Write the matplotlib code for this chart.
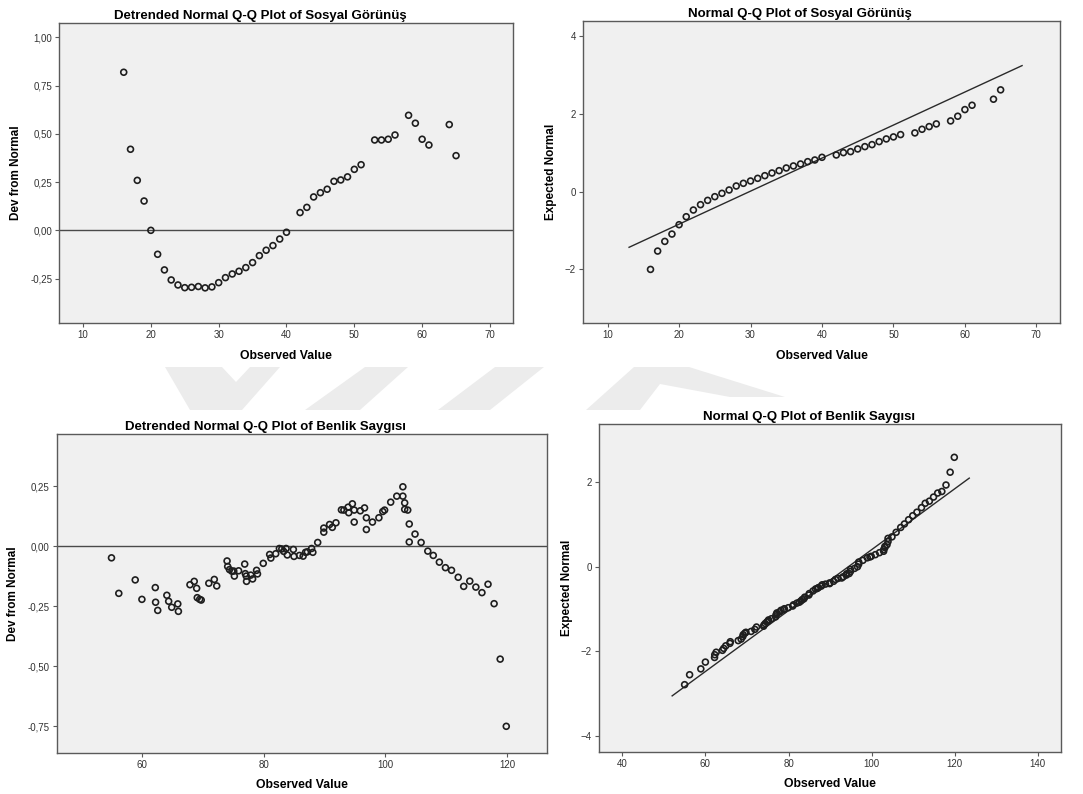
"""SPSS-style normal / detrended normal Q-Q plots for Sosyal Görünüş and Benlik Saygısı."""

import matplotlib

matplotlib.use("Agg")
import matplotlib.pyplot as plt
from matplotlib.patches import Polygon
from matplotlib.ticker import FuncFormatter

plt.rcParams["font.family"] = ["Liberation Sans", "DejaVu Sans"]

# --- Sosyal Görünüş -------------------------------------------------------
sos_obs = [16, 17, 18, 19, 20, 21, 22, 23, 24, 25, 26, 27, 28, 29, 30, 31, 32,
           33, 34, 35, 36, 37, 38, 39, 40, 42, 43, 44, 45, 46, 47, 48, 49, 50,
           51, 53, 54, 55, 56, 58, 59, 60, 61, 64, 65]
sos_dev = [0.819, 0.420, 0.259, 0.152, 0.000, -0.124, -0.205, -0.257, -0.283,
           -0.297, -0.295, -0.291, -0.298, -0.293, -0.271, -0.245, -0.226,
           -0.212, -0.193, -0.167, -0.131, -0.103, -0.079, -0.045, -0.010,
           0.092, 0.119, 0.173, 0.195, 0.213, 0.254, 0.261, 0.277, 0.316,
           0.340, 0.468, 0.468, 0.472, 0.494, 0.596, 0.555, 0.472, 0.442,
           0.548, 0.387]
sos_exp = [-2.000, -1.527, -1.278, -1.089, -0.848, -0.642, -0.470, -0.332,
           -0.221, -0.126, -0.040, 0.046, 0.149, 0.218, 0.278, 0.346, 0.415,
           0.484, 0.544, 0.613, 0.665, 0.716, 0.776, 0.819, 0.888, 0.948,
           1.008, 1.034, 1.103, 1.163, 1.215, 1.292, 1.361, 1.413, 1.473,
           1.516, 1.610, 1.679, 1.748, 1.825, 1.946, 2.117, 2.229, 2.384, 2.625]
sos_line_x = [13, 68]
sos_line_y = [-1.43, 3.25]

# --- Benlik Saygısı -------------------------------------------------------
ben_obs = [55.0, 56.2, 58.9, 60.0, 62.2, 62.25, 62.6, 64.1, 64.4, 64.9, 65.9,
           66.0, 67.9, 68.6, 69.0, 69.1, 69.5, 69.75, 71.0, 71.9, 72.3, 74.0,
           74.1, 74.4, 74.8, 75.1, 75.2, 75.9, 76.9, 77.0, 77.15, 77.2, 77.9,
           78.2, 78.85, 79.0, 79.95, 81.0, 81.2, 82.0, 82.6, 83.0, 83.3, 83.7,
           83.9, 84.9, 85.0, 85.9, 86.5, 86.9, 87.2, 87.9, 88.1, 88.9, 89.9,
           89.9, 90.85, 91.3, 91.9, 92.8, 93.2, 93.9, 94.0, 94.6, 94.9, 94.9,
           95.9, 96.6, 96.9, 96.9, 97.9, 98.96, 99.6, 99.9, 100.9, 101.9,
           102.9, 102.9, 103.2, 103.2, 103.7, 103.95, 103.95, 104.9, 105.9,
           107.0, 107.9, 108.9, 109.9, 110.9, 112.0, 112.9, 113.9, 114.9,
           115.9, 116.9, 117.9, 118.9, 119.9]
ben_dev = [-0.049, -0.197, -0.141, -0.222, -0.173, -0.234, -0.268, -0.205,
           -0.230, -0.255, -0.241, -0.272, -0.161, -0.147, -0.176, -0.215,
           -0.222, -0.225, -0.155, -0.139, -0.166, -0.062, -0.085, -0.098,
           -0.105, -0.104, -0.125, -0.103, -0.075, -0.115, -0.125, -0.147,
           -0.121, -0.137, -0.101, -0.116, -0.072, -0.035, -0.050, -0.032,
           -0.010, -0.012, -0.022, -0.010, -0.037, -0.014, -0.043, -0.039,
           -0.042, -0.026, -0.024, -0.010, -0.026, 0.015, 0.075, 0.058, 0.090,
           0.078, 0.097, 0.151, 0.150, 0.162, 0.139, 0.176, 0.150, 0.100,
           0.147, 0.159, 0.118, 0.069, 0.100, 0.118, 0.144, 0.150, 0.183,
           0.208, 0.247, 0.208, 0.180, 0.153, 0.150, 0.092, 0.017, 0.050,
           0.015, -0.021, -0.039, -0.067, -0.090, -0.101, -0.130, -0.168,
           -0.146, -0.171, -0.194, -0.159, -0.240, -0.471, -0.751]
ben_exp = [-2.785, -2.550, -2.412, -2.251, -2.142, -2.077, -2.018, -1.973,
           -1.927, -1.866, -1.808, -1.769, -1.743, -1.707, -1.649, -1.603,
           -1.567, -1.546, -1.526, -1.477, -1.422, -1.403, -1.373, -1.338,
           -1.302, -1.282, -1.254, -1.225, -1.181, -1.134, -1.113, -1.088,
           -1.063, -1.026, -1.015, -0.989, -0.965, -0.926, -0.896, -0.857,
           -0.836, -0.805, -0.773, -0.756, -0.715, -0.666, -0.630, -0.569,
           -0.523, -0.510, -0.490, -0.454, -0.423, -0.407, -0.395, -0.378,
           -0.341, -0.297, -0.273, -0.262, -0.232, -0.194, -0.163, -0.157,
           -0.110, -0.060, -0.035, 0.004, 0.066, 0.115, 0.156, 0.215, 0.235,
           0.250, 0.290, 0.337, 0.370, 0.409, 0.458, 0.485, 0.524, 0.600,
           0.675, 0.711, 0.818, 0.933, 1.016, 1.116, 1.211, 1.294, 1.402,
           1.505, 1.555, 1.652, 1.747, 1.784, 1.937, 2.240, 2.592]
ben_line_x = [52, 123.5]
ben_line_y = [-3.05, 2.10]

PANEL_BG = "#f0f0f0"
SPINE = "#5a5a5a"
MARK = "#1e1e1e"
W, H = 1083, 794

# faint page watermark between the two rows (pixel outlines)
watermark = [
    [(165, 367), (222, 367), (236, 382), (250, 367), (280, 367), (242, 410), (190, 410)],
    [(365, 367), (408, 367), (360, 410), (305, 410)],
    [(495, 367), (544, 367), (490, 410), (438, 410)],
    [(586, 410), (634, 367), (689, 367), (785, 397), (730, 397), (660, 384), (640, 410)],
]


def _comma(v, _pos):
    if abs(v) < 1e-9:
        v = 0.0
    return f"{v:.2f}".replace(".", ",")


def _style(ax, title, title_x, ylabel):
    ax.set_facecolor(PANEL_BG)
    for s in ax.spines.values():
        s.set_color(SPINE)
        s.set_linewidth(1.0)
    ax.tick_params(axis="both", direction="out", length=3, width=0.8,
                   color=SPINE, labelsize=7, labelcolor="#333333", pad=2)
    ax.tick_params(top=False, right=False)
    # SPSS centres the title over the whole chart area, not the plot frame
    ax.set_title(title, fontsize=9.5, fontweight="bold", pad=3, x=title_x)
    ax.set_xlabel("Observed Value", fontsize=8.8, fontweight="bold", labelpad=7)
    ax.set_ylabel(ylabel, fontsize=8.5, fontweight="bold", labelpad=6)


def _points(ax, x, y):
    ax.scatter(x, y, s=18, facecolors="none", edgecolors=MARK, linewidths=1.2,
               zorder=3)


fig = plt.figure(figsize=(10.83, 7.94), dpi=100)

for shape in watermark:
    pts = [(x / W, 1 - y / H) for x, y in shape]
    fig.patches.append(Polygon(pts, closed=True, transform=fig.transFigure,
                               facecolor="#ececec", edgecolor="none", zorder=0))

# top-left: detrended, Sosyal Görünüş
ax = fig.add_axes([0.0545, 0.5932, 0.4192, 0.3778])
ax.axhline(0, color="#4a4a4a", linewidth=1.0, zorder=2)
_points(ax, sos_obs, sos_dev)
ax.set_xlim(6.46, 73.4)
ax.set_ylim(-0.48, 1.074)
ax.set_xticks([10, 20, 30, 40, 50, 60, 70])
ax.set_yticks([-0.25, 0.0, 0.25, 0.5, 0.75, 1.0])
ax.yaxis.set_major_formatter(FuncFormatter(_comma))
_style(ax, "Detrended Normal Q-Q Plot of Sosyal Görünüş", 0.443, "Dev from Normal")

# top-right: normal Q-Q, Sosyal Görünüş
ax = fig.add_axes([0.5383, 0.5932, 0.4404, 0.3804])
ax.plot(sos_line_x, sos_line_y, color="#2a2a2a", linewidth=1.0, zorder=2)
_points(ax, sos_obs, sos_exp)
ax.set_xlim(6.55, 73.3)
ax.set_ylim(-3.38, 4.40)
ax.set_xticks([10, 20, 30, 40, 50, 60, 70])
ax.set_yticks([-2, 0, 2, 4])
_style(ax, "Normal Q-Q Plot of Sosyal Görünüş", 0.455, "Expected Normal")

# bottom-left: detrended, Benlik Saygısı
ax = fig.add_axes([0.0524, 0.0520, 0.4527, 0.4014])
ax.axhline(0, color="#4a4a4a", linewidth=1.0, zorder=2)
_points(ax, ben_obs, ben_dev)
ax.set_xlim(46.0, 126.6)
ax.set_ylim(-0.861, 0.467)
ax.set_xticks([60, 80, 100, 120])
ax.set_yticks([-0.75, -0.5, -0.25, 0.0, 0.25])
ax.yaxis.set_major_formatter(FuncFormatter(_comma))
_style(ax, "Detrended Normal Q-Q Plot of Benlik Saygısı", 0.425, "Dev from Normal")

# bottom-right: normal Q-Q, Benlik Saygısı
ax = fig.add_axes([0.5531, 0.0533, 0.4263, 0.4127])
ax.plot(ben_line_x, ben_line_y, color="#2a2a2a", linewidth=1.0, zorder=2)
_points(ax, ben_obs, ben_exp)
ax.set_xlim(34.4, 145.5)
ax.set_ylim(-4.37, 3.38)
ax.set_xticks([40, 60, 80, 100, 120, 140])
ax.set_yticks([-4, -2, 0, 2])
_style(ax, "Normal Q-Q Plot of Benlik Saygısı", 0.455, "Expected Normal")

fig.savefig("out.png", dpi=100)
